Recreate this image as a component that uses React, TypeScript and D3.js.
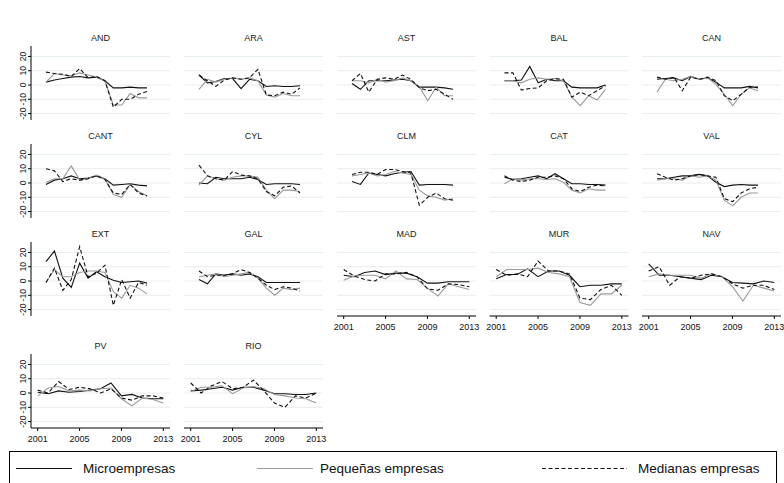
import React from "react";
import * as d3 from "d3";

const years = [2001, 2002, 2003, 2004, 2005, 2006, 2007, 2008, 2009, 2010, 2011, 2012, 2013];
const regions = ["AND", "ARA", "AST", "BAL", "CAN", "CANT", "CYL", "CLM", "CAT", "VAL", "EXT", "GAL", "MAD", "MUR", "NAV", "PV", "RIO"];
const regionsWithXAxis = ["MAD", "MUR", "NAV", "PV", "RIO"];
const yTicks = [-20, -10, 0, 10, 20];
const xTicks = [2001, 2005, 2009, 2013];
const seriesNames = ["Microempresas", "Pequeñas empresas", "Medianas empresas"];

const micro = [
  [2, 3.5, 4.5, 5.5, 6, 5, 5.5, 3, -2, -2, -1.5, -2, -2],
  [7, 1.5, 2.5, 4.5, 4.5, -2.5, 4, 3, -1, -0.5, -1, -1, -0.5],
  [1, -3, 3, 3, 3, 3.5, 4, 3, -1.5, -1.5, -1.5, -2, -3],
  [3, 3, 3.5, 13, 1.5, 4, 3, 3, -1.5, -2, -2, -2, 0],
  [4, 4.5, 5, 3, 6, 4, 5, 2, -2, -2, -2, -1, -2],
  [-1, 2, 3, 5, 3, 3.5, 5, 3, -1.5, -1, -0.5, -1.5, -2],
  [0, -0.5, 4, 3, 3, 3, 4, 2.5, -1, -0.5, -0.5, -0.5, -1],
  [1, -1, 7, 6, 5, 6.5, 7.5, 8, -1.5, -1, -1, -1, -1.5],
  [4, 2.5, 3, 4, 5, 3, 6.5, 3, -0.5, -0.5, -1, -1, -1.5],
  [3, 3, 4, 5, 5, 6, 5, 0.5, -2.5, -1.5, -1, -1.5, -1.5],
  [13.5, 21, 2, -4.5, 12.5, 2, 6.5, 3, 0.5, -1, -0.5, 0, -1.5],
  [1, -2, 5, 4, 5, 4, 5, 3, -1, -1, -1, -1, -1],
  [4, 3, 6, 7, 4.5, 5.5, 5.5, 3, -1.5, -1.5, -0.5, -0.5, -0.5],
  [1.5, 4.5, 4.5, 8.5, 3, 7, 7, 4, -4, -3, -3, -2, -2],
  [12, 4, 4, 3, 2, 1, 4, 3, -1, -1.5, -2, 0, -1],
  [0.5, -0.5, 1.5, 0.5, 1, 2, 3, 7, -2, -1, -3.5, -4, -4],
  [1.5, 2, 3, 4, 2, 4, 4, 2, -0.5, -0.5, -1, -1, 0],
];

const pequenas = [
  [2, 8, 7, 6.5, 8.5, 7, 5.5, 3, -14, -14, -6, -9, -9],
  [-3, 4, 2, 4, 5, 4, 5, 3, -7, -8.5, -6, -7.5, -7.5],
  [3, 3, 1.5, 4, 2, 3, 5, 3, -1, -11, -1.5, -7.5, -7.5],
  [3, 3, 1.5, 4, 5, 4, 4.5, 3, -8.5, -14.5, -7.5, -10.5, -3],
  [-5, 4, 3, 4, 6, 4, 5, 0.5, -6.5, -14.5, -6.5, -2, -4],
  [0.5, 3, 3, 12, 2, 3, 5.5, 3, -8, -10, -1, -6, -9],
  [-1.5, 5, 3, 2, 4, 5, 5, 4, -5, -11, -5, -5, -6],
  [5, 6, 7, 5, 6, 8, 7, 6, -5, -9, -10, -12, -11],
  [-0.5, 3, 2, 3, 3, 2.5, 3, 0.5, -5, -7, -4, -5, -5],
  [2, 3, 3, 2, 5, 4, 5, 2, -12, -16, -10, -7, -7],
  [-1, 8, 3, 3, 6, 7, 7, 6, -7.5, -12, -3, -5, -9],
  [3, 4, 5, 3, 4, 5, 6, 2, -5, -10, -5, -6, -5],
  [0.5, 3.5, 4, 4, 1.5, 7, 1.5, 1, -5, -10.5, -2, -4, -6],
  [3, 8, 8, 8, 9, 6, 5, 3, -15, -17, -9, -9, -3],
  [3, 5, 4, 4, 4, 2, 5, 3, -4, -14, -3, -5, -7],
  [-2, 3.5, 4.5, 1.5, 2, 1.5, 3, 3.5, -4, -9, -3.5, -4.5, -7],
  [1, 4, 4, 5, -0.5, 3.5, 4.5, 3, -1, -2, -3.5, -4, -7],
];

const medianas = [
  [9, 8, 7.5, 6, 11.5, 5, 6, 3, -15.5, -10, -10, -6.5, -4.5],
  [7, 3, -1, 3.5, 5, 4, 5, 11, -7, -7.5, -5, -6.5, -2],
  [3, 8, -5, 4, 5, 4, 7, 4, -2, -4, -3, -6.5, -10],
  [8.5, 8.5, -3.5, -2.5, -2, 3, 4.5, 4, -8.5, -5, -7.5, -4, -0.5],
  [5.5, 4, 5.5, -4, 5.5, 4, 5.5, 3, -7.5, -11, -6.5, -1.5, -1.5],
  [10, 8.5, 1, 3, 2, 3, 5, 2.5, -7, -8, -1, -7, -9],
  [12.5, 5, 3, 2, 8, 5.5, 5, 3, -6, -9, -3, -2, -7],
  [6, 7.5, 7.5, 6, 9.5, 9.5, 8, 7, -15.5, -10, -7, -11, -12],
  [5, 2, 1, 2, 4, 4, 5, 3, -4, -6, -3, -1.5, -2],
  [6.5, 4, 2, 3, 5, 6, 5, 4, -11, -13, -7, -4, -3],
  [-1, 9, -6.5, 1, 24, 3, 5.5, 11, -17, 1, -12, -1, -3],
  [7, 3, 4, 4, 5, 8, 6, 2, -3, -6, -4, -5, -7],
  [8, 3.5, 1, 0, 5, 5, 6, 3, -5.5, -6.5, -2, -2.5, -4],
  [8, 4, 5, 3, 14, 7, 7, 5, -12, -13, -6, -3, -10],
  [7, 10, -3, 3, 2, 4, 5, 3, -2, -5, -3, -3, -6],
  [2, 0, 8, 2.5, 4, 3, 0, 3, -3.5, -5, -2, -2, -3.5],
  [7, 0, 5, 8, 3, 4, 9, 1.5, -7, -10, -2, -3.5, 0],
];

const FONT = "'Liberation Sans', Arial, Helvetica, sans-serif";
const W = 784;
const H = 483;
const colLeft = [31, 184, 337, 489.5, 642];
const panelW = 139;
const rowZero = [85, 183, 281, 393];

const seriesStyles = [
  { stroke: "#111", dash: undefined as string | undefined, width: 1.1 },
  { stroke: "#9a9a9a", dash: undefined as string | undefined, width: 1.1 },
  { stroke: "#111", dash: "4,2.5", width: 1.1 },
];

function Panel({ idx }: { idx: number }) {
  const name = regions[idx];
  const col = idx % 5;
  const row = Math.floor(idx / 5);
  const L = colLeft[col];
  const zero = rowZero[row];
  const hasX = regionsWithXAxis.includes(name);
  const y = d3.scaleLinear().domain([-24.5, 27.3]).range([zero + 35, zero - 39]);
  const xAxisScale = d3.scaleLinear().domain([2001, 2013]).range([L + 6.7, L + 132.3]);
  const xData = hasX ? xAxisScale : d3.scaleLinear().domain([2001, 2013]).range([L + 15, L + 116]);
  const all = [micro[idx], pequenas[idx], medianas[idx]];
  const line = d3
    .line<number>()
    .x((_, i) => xData(years[i]))
    .y((v) => y(v));
  const bottom = y(-24.5);
  const top = y(27.3);
  return (
    <g>
      <text x={L + panelW / 2} y={zero - 43.8} textAnchor="middle" fontSize={9} fill="#1a1a1a" fontFamily={FONT}>
        {name}
      </text>
      {yTicks.map((t) => (
        <line key={t} x1={L} x2={L + panelW} y1={y(t)} y2={y(t)} stroke="#e6eef0" strokeWidth={1} />
      ))}
      {all.map((vals, s) => (
        <path
          key={s}
          d={line(vals) || ""}
          fill="none"
          stroke={seriesStyles[s].stroke}
          strokeWidth={seriesStyles[s].width}
          strokeDasharray={seriesStyles[s].dash}
          strokeLinejoin="miter"
        />
      ))}
      {col === 0 && (
        <g>
          <line x1={L} x2={L} y1={top} y2={bottom} stroke="#000" strokeWidth={1} />
          {yTicks.map((t) => (
            <g key={t}>
              <line x1={L - 3} x2={L} y1={y(t)} y2={y(t)} stroke="#000" strokeWidth={1} />
              <text
                transform={`translate(${L - 5.5},${y(t)}) rotate(-90)`}
                textAnchor="middle"
                fontSize={8.5}
                fill="#111"
                fontFamily={FONT}
              >
                {t}
              </text>
            </g>
          ))}
        </g>
      )}
      {hasX && (
        <g>
          <line x1={L} x2={L + panelW} y1={bottom} y2={bottom} stroke="#000" strokeWidth={1} />
          {xTicks.map((t) => (
            <g key={t}>
              <line x1={xAxisScale(t)} x2={xAxisScale(t)} y1={bottom} y2={bottom + 3} stroke="#000" strokeWidth={1} />
              <text x={xAxisScale(t)} y={bottom + 13.5} textAnchor="middle" fontSize={9} fill="#111" fontFamily={FONT}>
                {t}
              </text>
            </g>
          ))}
        </g>
      )}
    </g>
  );
}

function Legend() {
  const items = [
    { x1: 16, x2: 72, tx: 83 },
    { x1: 257, x2: 313, tx: 320 },
    { x1: 542, x2: 627, tx: 638 },
  ];
  const ly = 468.5;
  return (
    <g>
      <rect x={9.5} y={451.5} width={767} height={40} fill="#fff" stroke="#000" strokeWidth={1} />
      {items.map((it, i) => (
        <g key={i}>
          <line
            x1={it.x1}
            x2={it.x2}
            y1={ly}
            y2={ly}
            stroke={seriesStyles[i].stroke}
            strokeWidth={1.2}
            strokeDasharray={seriesStyles[i].dash}
          />
          <text x={it.tx} y={ly + 4.8} fontSize={13.5} fill="#111" fontFamily={FONT}>
            {seriesNames[i]}
          </text>
        </g>
      ))}
    </g>
  );
}

export default function App() {
  return (
    <div style={{ position: "absolute", left: 0, top: 0 }}>
      <svg width={W} height={H} style={{ display: "block", background: "#fff" }}>
        <rect x={0} y={0} width={W} height={H} fill="#fff" />
        {regions.map((_, i) => (
          <Panel key={i} idx={i} />
        ))}
        <Legend />
      </svg>
    </div>
  );
}
